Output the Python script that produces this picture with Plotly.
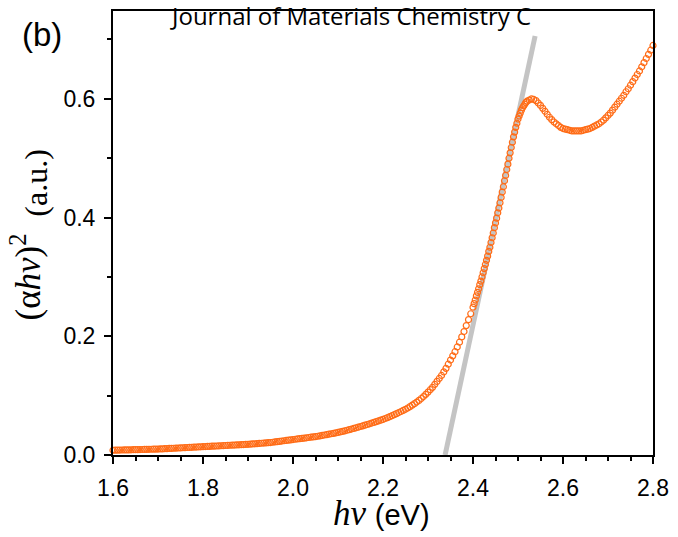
import plotly.graph_objects as go

hv = [1.600, 1.605, 1.610, 1.615, 1.620, 1.625, 1.630, 1.635, 1.640, 1.645,
      1.650, 1.655, 1.660, 1.665, 1.670, 1.675, 1.680, 1.685, 1.690, 1.695,
      1.700, 1.705, 1.710, 1.715, 1.720, 1.725, 1.730, 1.735, 1.740, 1.745,
      1.750, 1.755, 1.760, 1.765, 1.770, 1.775, 1.780, 1.785, 1.790, 1.795,
      1.800, 1.805, 1.810, 1.815, 1.820, 1.825, 1.830, 1.835, 1.840, 1.845,
      1.850, 1.855, 1.860, 1.865, 1.870, 1.875, 1.880, 1.885, 1.890, 1.895,
      1.900, 1.905, 1.910, 1.915, 1.920, 1.925, 1.930, 1.935, 1.940, 1.945,
      1.950, 1.955, 1.960, 1.965, 1.970, 1.975, 1.980, 1.985, 1.990, 1.995,
      2.000, 2.005, 2.010, 2.015, 2.020, 2.025, 2.030, 2.035, 2.040, 2.045,
      2.050, 2.055, 2.060, 2.065, 2.070, 2.075, 2.080, 2.085, 2.090, 2.095,
      2.100, 2.105, 2.110, 2.115, 2.120, 2.125, 2.130, 2.135, 2.140, 2.145,
      2.150, 2.155, 2.160, 2.165, 2.170, 2.175, 2.180, 2.185, 2.190, 2.195,
      2.200, 2.205, 2.210, 2.215, 2.220, 2.225, 2.230, 2.235, 2.240, 2.245,
      2.250, 2.255, 2.260, 2.265, 2.270, 2.275, 2.280, 2.285, 2.290, 2.295,
      2.300, 2.305, 2.310, 2.315, 2.320, 2.325, 2.330, 2.335, 2.340, 2.345,
      2.350, 2.355, 2.360, 2.365, 2.370, 2.375, 2.380, 2.385, 2.390, 2.395,
      2.4000, 2.4025, 2.4050, 2.4075, 2.4100, 2.4125, 2.4150, 2.4175,
      2.4200, 2.4225, 2.4250, 2.4275, 2.4300, 2.4325, 2.4350, 2.4375,
      2.4400, 2.4425, 2.4450, 2.4475, 2.4500, 2.4525, 2.4550, 2.4575,
      2.4600, 2.4625, 2.4650, 2.4675, 2.4700, 2.4725, 2.4750, 2.4775,
      2.4800, 2.4825, 2.4850, 2.4875, 2.4900, 2.4925, 2.4950, 2.4975,
      2.5000, 2.5025, 2.5050, 2.5075, 2.5100, 2.5125, 2.5150, 2.5175,
      2.520, 2.525, 2.530, 2.535, 2.540, 2.545, 2.550, 2.555, 2.560, 2.565,
      2.570, 2.575, 2.580, 2.585, 2.590, 2.595, 2.600, 2.605, 2.610, 2.615,
      2.620, 2.625, 2.630, 2.635, 2.640, 2.645, 2.650, 2.655, 2.660, 2.665,
      2.670, 2.675, 2.680, 2.685, 2.690, 2.695, 2.700, 2.705, 2.710, 2.715,
      2.720, 2.725, 2.730, 2.735, 2.740, 2.745, 2.750, 2.755, 2.760, 2.765,
      2.770, 2.775, 2.780, 2.785, 2.790, 2.795, 2.800]

alpha_hv_sq = [
    .0080, .0081, .0082, .0083, .0084, .0085, .0086, .0087, .0088, .0089,
    .0090, .0091, .0092, .0093, .0094, .0095, .0096, .0097, .0098, .0099,
    .0100, .0102, .0104, .0106, .0108, .0110, .0112, .0114, .0116, .0118,
    .0120, .0122, .0124, .0126, .0128, .0130, .0132, .0134, .0136, .0138,
    .0140, .0142, .0144, .0146, .0148, .0150, .0152, .0154, .0156, .0158,
    .0160, .0162, .0164, .0166, .0168, .0170, .0172, .0174, .0176, .0178,
    .0180, .0183, .0186, .0189, .0192, .0195, .0198, .0201, .0204, .0207,
    .0210, .0215, .0220, .0225, .0230, .0235, .0240, .0245, .0250, .0255,
    .0260, .0265, .0270, .0275, .0280, .0285, .0290, .0295, .0300, .0305,
    .0310, .0316, .0323, .0330, .0337, .0344, .0351, .0358, .0365, .0372,
    .0380, .0389, .0398, .0407, .0417, .0427, .0437, .0447, .0458, .0469,
    .0480, .0491, .0503, .0514, .0526, .0538, .0550, .0562, .0575, .0587,
    .0600, .0615, .0630, .0646, .0662, .0679, .0697, .0715, .0733, .0751,
    .0770, .0792, .0815, .0840, .0865, .0892, .0920, .0952, .0985, .1022,
    .106, .110, .114, .119, .124, .129, .134, .140, .146, .153,
    .160, .167, .174, .182, .190, .199, .208, .218, .228, .238,
    .249, .255, .261, .268, .274, .280, .287, .293,
    .300, .307, .314, .321, .328, .335, .343, .350,
    .358, .366, .374, .383, .391, .399, .408, .416,
    .425, .434, .443, .452, .462, .471, .481, .490,
    .500, .509, .518, .527, .536, .544, .552, .559,
    .566, .571, .576, .581, .585, .588, .591, .594,
    .596, .598, .600, .599, .597, .593, .589, .584, .579, .574,
    .569, .565, .561, .558, .555, .552, .550, .549, .548, .547,
    .546, .546, .546, .546, .546, .547, .548, .549, .550, .552,
    .554, .556, .558, .561, .564, .568, .572, .576, .581, .586,
    .591, .596, .601, .606, .612, .617, .623, .629, .635, .641,
    .647, .654, .661, .668, .675, .682, .690]

# linear fit (Tauc extrapolation) end points
fit_hv = [2.338, 2.538]
fit_y = [0.0, 0.706]

x_ticks = [1.6, 1.8, 2.0, 2.2, 2.4, 2.6, 2.8]
y_ticks = [0.0, 0.2, 0.4, 0.6]

fig = go.Figure()
fig.add_trace(go.Scatter(x=fit_hv, y=fit_y, mode="lines",
                         line=dict(color="#c4c4c4", width=5),
                         showlegend=False, cliponaxis=False))
fig.add_trace(go.Scatter(x=hv, y=alpha_hv_sq, mode="markers",
                         marker=dict(symbol="circle-open", size=6,
                                     color="#ff6c17", line=dict(width=1.2, color="#ff6c17")),
                         showlegend=False, cliponaxis=False))

axis_common = dict(showgrid=False, zeroline=False, showline=True, linecolor="black",
                   linewidth=2, mirror=True, ticks="outside", ticklen=7, tickwidth=1.5,
                   tickcolor="black",
                   tickfont=dict(family="Liberation Sans, Arial", size=23, color="black"))

fig.update_xaxes(range=[1.6, 2.8], tickvals=x_ticks, ticktext=[f"{v:.1f}" for v in x_ticks],
                 minor=dict(dtick=0.05, tick0=1.6, ticks="outside", ticklen=4,
                            tickwidth=1.5, tickcolor="black"),
                 ticklabelstandoff=4, **axis_common)
fig.update_yaxes(range=[0, 0.748], tickvals=y_ticks, ticktext=[f"{v:.1f}" for v in y_ticks],
                 minor=dict(dtick=0.1, tick0=0, ticks="outside", ticklen=4,
                            tickwidth=1.5, tickcolor="black"),
                 ticklabelstandoff=4, **axis_common)

serif = "Liberation Serif, Times New Roman"
sans = "Liberation Sans, Arial"

fig.update_layout(
    width=678, height=537,
    margin=dict(l=113, r=23, t=9, b=82),
    paper_bgcolor="white", plot_bgcolor="white",
    annotations=[
        dict(text="(α<i>hv</i>)<sup>2</sup>",
             xref="paper", yref="paper", x=-0.161, y=0.40, textangle=-90,
             xanchor="center", yanchor="middle", showarrow=False,
             font=dict(family=serif, size=35, color="black")),
        dict(text="(a.u.)",
             xref="paper", yref="paper", x=-0.142, y=0.614, textangle=-90,
             xanchor="center", yanchor="middle", showarrow=False,
             font=dict(family=serif, size=32, color="black")),
        dict(text="<i>hv</i> <span style='font-family:Liberation Sans, Arial; font-size:29px'>(eV)</span>",
             xref="paper", yref="paper", x=0.497, y=-0.132,
             xanchor="center", yanchor="middle", showarrow=False,
             font=dict(family=serif, size=35, color="black")),
        dict(text="(b)", xref="paper", yref="paper", x=-0.131, y=0.946,
             xanchor="center", yanchor="middle", showarrow=False,
             font=dict(family=sans, size=33, color="black")),
        dict(text="Journal of Materials Chemistry C", xref="paper", yref="paper",
             x=0.1015, y=0.99, xanchor="left", yanchor="middle", showarrow=False,
             font=dict(family="Open Sans, Liberation Sans", size=24, color="black")),
    ],
)

fig.write_html("out.html")
